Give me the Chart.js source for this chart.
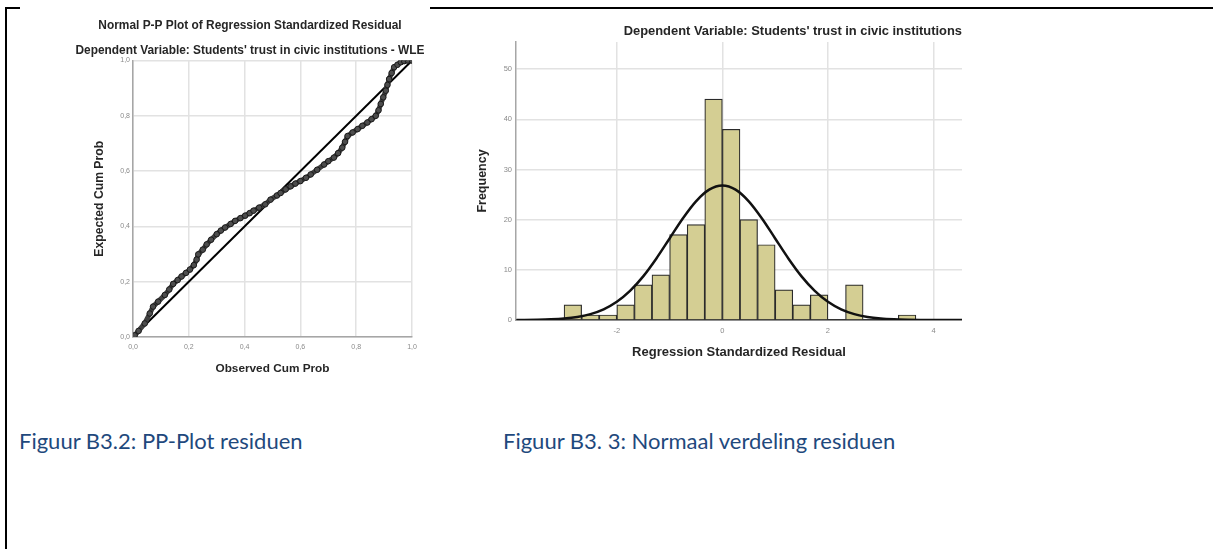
<!DOCTYPE html>
<html>
<head>
<meta charset="utf-8">
<title>Residuen</title>
<script src="https://cdn.jsdelivr.net/npm/chart.js@4.4.1/dist/chart.umd.min.js"></script>
<style>
  html, body { margin:0; padding:0; background:#fff; width:1213px; height:549px; overflow:hidden; }
  .frame-line { position:absolute; background:#000; }
  .chart-box { position:absolute; }
  .caption { position:absolute; font-family: Lato, "Open Sans", sans-serif; font-size:22px; line-height:22px; color:#1f497d; white-space:nowrap; }
</style>
</head>
<body>
<div class="frame-line" style="left:5px; top:7px; width:2px; height:542px;"></div>
<div class="frame-line" style="left:5px; top:7px; width:15px; height:2px;"></div>
<div class="frame-line" style="left:430px; top:7px; width:783px; height:2px;"></div>

<div class="chart-box" style="left:20px; top:8px;"><canvas id="ppChart" width="460" height="372"></canvas></div>
<div class="chart-box" style="left:457px; top:8px;"><canvas id="histChart" width="505" height="365"></canvas></div>

<div class="caption" id="capLeft" style="left:19px; top:430px;">Figuur B3.2: PP-Plot residuen</div>
<div class="caption" id="capRight" style="left:503px; top:430px;">Figuur B3. 3: Normaal verdeling residuen</div>

<script>
// P-P PLOT DATA (observed vs expected cumulative probability)
const ppObserved = [0.0, 0.006, 0.02, 0.042, 0.06, 0.072, 0.09, 0.114, 0.13, 0.144, 0.16, 0.174, 0.19, 0.204,
    0.218, 0.228, 0.234, 0.25, 0.264, 0.28, 0.30, 0.315, 0.33, 0.35, 0.366, 0.385, 0.402, 0.418, 0.432,
    0.452, 0.474, 0.493, 0.516, 0.529, 0.547, 0.565, 0.582, 0.60, 0.62, 0.637, 0.66, 0.685, 0.70, 0.72,
    0.735, 0.75, 0.76, 0.769, 0.787, 0.805, 0.822, 0.84, 0.855, 0.87, 0.88, 0.888, 0.897, 0.906, 0.912,
    0.918, 0.927, 0.936, 0.948, 0.96, 0.972, 0.985, 1.0];
const ppExpected = [0.0, 0.006, 0.022, 0.049, 0.085, 0.11, 0.128, 0.152, 0.172, 0.192, 0.206, 0.219, 0.232, 0.244,
    0.26, 0.28, 0.299, 0.316, 0.335, 0.352, 0.372, 0.385, 0.396, 0.409, 0.42, 0.43, 0.439, 0.448, 0.457,
    0.468, 0.48, 0.497, 0.512, 0.521, 0.534, 0.545, 0.555, 0.564, 0.576, 0.588, 0.605, 0.624, 0.636, 0.649,
    0.665, 0.685, 0.706, 0.727, 0.74, 0.752, 0.764, 0.776, 0.788, 0.80, 0.82, 0.843, 0.867, 0.891, 0.912,
    0.933, 0.955, 0.976, 0.985, 0.994, 0.998, 1.0, 1.0];
const refLineX = [0, 1];
const refLineY = [0, 1];
const ppTickLabels = ['0,0', '0,2', '0,4', '0,6', '0,8', '1,0'];

// HISTOGRAM DATA (bins of 1/3 standard deviation)
const binCenters = [-2.833, -2.5, -2.167, -1.833, -1.5, -1.167, -0.833, -0.5, -0.167, 0.167, 0.5, 0.833,
    1.167, 1.5, 1.833, 2.167, 2.5, 2.833, 3.167, 3.5];
const binCounts = [3, 1, 1, 3, 7, 9, 17, 19, 44, 38, 20, 15, 6, 3, 5, 0, 7, 0, 0, 1];
const curveX = [-3.9, -3.75, -3.5, -3.25, -3.0, -2.75, -2.5, -2.25, -2.0, -1.75, -1.5, -1.25, -1.0, -0.75, -0.5, -0.25,
    0, 0.25, 0.5, 0.75, 1.0, 1.25, 1.5, 1.75, 2.0, 2.25, 2.5, 2.75, 3.0, 3.25, 3.5, 3.75, 4.0, 4.25, 4.54];
const curveY = [0.01, 0.02, 0.06, 0.14, 0.3, 0.61, 1.18, 2.13, 3.63, 5.8, 8.7, 12.27, 16.25, 20.23, 23.65, 25.97,
    26.8, 25.97, 23.65, 20.23, 16.25, 12.27, 8.7, 5.8, 3.63, 2.13, 1.18, 0.61, 0.3, 0.14, 0.06, 0.02, 0.01, 0.0, 0.0];
const histXTickLabels = ['-2', '0', '2', '4'];
const histYTickLabels = ['0', '10', '20', '30', '40', '50'];

const GRID = '#e2e2e2';
const AXIS = '#a6a6a6';
const TICK = '#8a8a8a';
const TITLE = '#262626';

Chart.defaults.font.family = '"Liberation Sans", Arial, sans-serif';
Chart.defaults.animation = false;

function buildPPChart() {
    const ctx = document.getElementById('ppChart').getContext('2d');
    new Chart(ctx, {
        type: 'scatter',
        data: {
            datasets: [
                {
                    data: ppObserved.map((x, i) => ({ x: x, y: ppExpected[i] })),
                    showLine: true,
                    borderColor: '#404040',
                    borderWidth: 5,
                    pointRadius: 2.8,
                    pointBackgroundColor: '#4d4d4d',
                    pointBorderColor: '#1a1a1a',
                    pointBorderWidth: 1,
                    order: 0
                },
                {
                    type: 'line',
                    data: refLineX.map((x, i) => ({ x: x, y: refLineY[i] })),
                    borderColor: '#000',
                    borderWidth: 2,
                    pointRadius: 0,
                    order: 1
                }
            ]
        },
        options: {
            responsive: false,
            devicePixelRatio: 1,
            layout: { padding: 0 },
            plugins: {
                legend: { display: false },
                tooltip: { enabled: false },
                title: {
                    display: true,
                    text: 'Normal P-P Plot of Regression Standardized Residual',
                    color: TITLE,
                    font: { size: 11.9, weight: 'bold' },
                    padding: { top: 11, bottom: 5 }
                },
                subtitle: {
                    display: true,
                    text: "Dependent Variable: Students' trust in civic institutions - WLE",
                    color: TITLE,
                    font: { size: 11.9, weight: 'bold' },
                    padding: { top: 5, bottom: 3 }
                }
            },
            scales: {
                x: {
                    type: 'linear', min: 0, max: 1,
                    afterFit: s => { s.height = 43; },
                    grid: { color: GRID, lineWidth: 1.5, drawTicks: false },
                    border: { color: AXIS, width: 1.5 },
                    ticks: { stepSize: 0.2, color: TICK, font: { size: 7 }, padding: 6, maxRotation: 0,
                        callback: (v, i) => ppTickLabels[i] },
                    title: { display: true, text: 'Observed Cum Prob', color: TITLE,
                        font: { size: 11.8, weight: 'bold' }, padding: { top: 0, bottom: 4 } }
                },
                y: {
                    type: 'linear', min: 0, max: 1,
                    afterFit: s => { s.width = 113; },
                    grid: { color: GRID, lineWidth: 1.5, drawTicks: false },
                    border: { color: AXIS, width: 1.5 },
                    ticks: { stepSize: 0.2, color: TICK, font: { size: 7 }, padding: 3,
                        callback: (v, i) => ppTickLabels[i] },
                    title: { display: true, text: 'Expected Cum Prob', color: TITLE,
                        font: { size: 12.2, weight: 'bold' }, padding: { top: 72, bottom: 0 } }
                },
                // empty right-hand margin: the original picture is cropped on this side
                spacer: {
                    type: 'linear', position: 'right',
                    afterFit: s => { s.width = 68; },
                    grid: { display: false },
                    border: { display: false },
                    ticks: { display: false }
                }
            }
        }
    });
}

function buildHistogram() {
    const ctx = document.getElementById('histChart').getContext('2d');
    new Chart(ctx, {
        type: 'bar',
        data: {
            datasets: [
                {
                    type: 'line',
                    data: curveX.map((x, i) => ({ x: x, y: curveY[i] })),
                    borderColor: '#111',
                    borderWidth: 2.5,
                    pointRadius: 0,
                    cubicInterpolationMode: 'monotone',
                    order: 0
                },
                {
                    type: 'bar',
                    data: binCenters.map((x, i) => ({ x: x, y: binCounts[i] })),
                    backgroundColor: '#d4ce93',
                    borderColor: '#2a2a2a',
                    borderWidth: 1.2,
                    barPercentage: 1,
                    categoryPercentage: 1,
                    order: 1
                }
            ]
        },
        options: {
            responsive: false,
            devicePixelRatio: 1,
            layout: { padding: 0 },
            plugins: {
                legend: { display: false },
                tooltip: { enabled: false },
                title: {
                    display: true,
                    text: "Dependent Variable: Students' trust in civic institutions",
                    align: 'end',
                    color: TITLE,
                    font: { size: 12.9, weight: 'bold' },
                    padding: { top: 16, bottom: 2.5 }
                }
            },
            scales: {
                x: {
                    type: 'linear', min: -3.91, max: 4.54, offset: false,
                    afterFit: s => { s.height = 53; },
                    grid: { color: GRID, lineWidth: 1.5, drawTicks: false, offset: false },
                    border: { color: '#333', width: 1.5 },
                    ticks: { stepSize: 2, includeBounds: false, color: TICK, font: { size: 7.5 }, padding: 6,
                        maxRotation: 0, callback: (v, i) => histXTickLabels[i] },
                    title: { display: true, text: 'Regression Standardized Residual', color: TITLE,
                        font: { size: 13, weight: 'bold' }, padding: { top: 0, bottom: 13 } }
                },
                y: {
                    type: 'linear', min: 0, max: 55.4,
                    afterFit: s => { s.width = 59; },
                    grid: { color: GRID, lineWidth: 1.5, drawTicks: false },
                    border: { color: AXIS, width: 1.5 },
                    ticks: { stepSize: 10, includeBounds: false, color: TICK, font: { size: 7.5 }, padding: 4,
                        callback: (v, i) => histYTickLabels[i] },
                    title: { display: true, text: 'Frequency', color: TITLE,
                        font: { size: 12.5, weight: 'bold' }, padding: { top: 18.5, bottom: 0 } }
                }
            }
        }
    });
}

window.onload = () => {
    buildPPChart();
    buildHistogram();
};
</script>
</body>
</html>
